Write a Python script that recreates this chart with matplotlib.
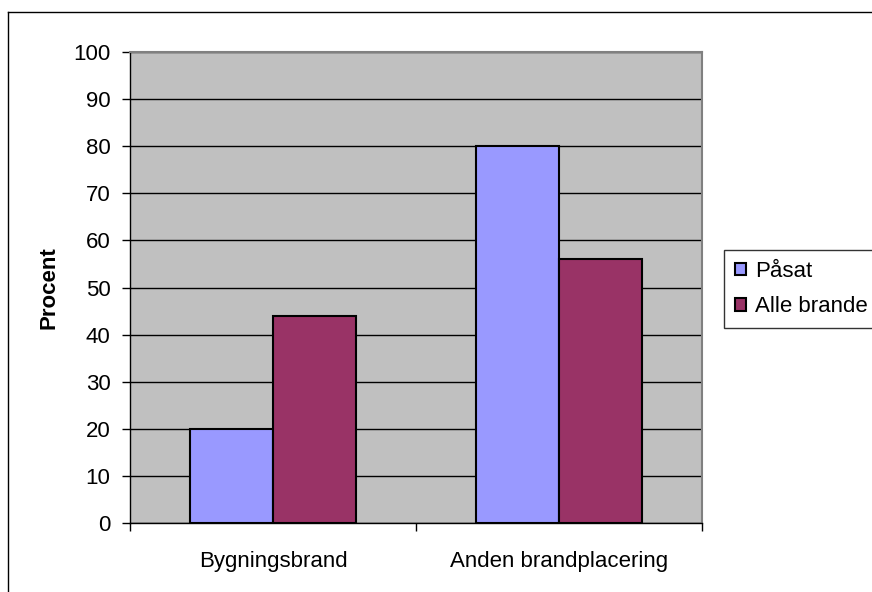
import numpy as np
import matplotlib.pyplot as plt
from matplotlib.lines import Line2D

categories = ["Bygningsbrand", "Anden brandplacering"]
series_names = ["Påsat", "Alle brande"]
paasat = [20, 80]
alle_brande = [44, 56]
yticks = list(range(0, 101, 10))

plt.rcParams['font.family'] = ['Liberation Sans', 'DejaVu Sans']

fig = plt.figure(figsize=(8.72, 5.92), dpi=100)
# outer chart border, only left and top edges are inside the picture
bx, by = 7.5 / 872, 1 - 11.5 / 592
fig.lines.append(Line2D([bx, bx], [0, by], transform=fig.transFigure,
                        color='black', linewidth=1))
fig.lines.append(Line2D([bx, 1], [by, by], transform=fig.transFigure,
                        color='black', linewidth=1))

ax = fig.add_axes([130 / 872, 1 - 523 / 592, 572 / 872, 471 / 592])
ax.set_facecolor('#C0C0C0')

x = np.arange(len(categories))
w = 0.29
ax.bar(x - w / 2, paasat, w, color='#9999FF', edgecolor='black', linewidth=1.5,
       label=series_names[0], zorder=3)
ax.bar(x + w / 2, alle_brande, w, color='#993366', edgecolor='black', linewidth=1.5,
       label=series_names[1], zorder=3)

ax.set_xlim(-0.5, len(categories) - 0.5)
ax.set_ylim(0, 100)
ax.set_yticks(yticks)
ax.yaxis.grid(True, color='black', linewidth=1)
ax.set_axisbelow(True)

ax.set_xticks(x)
ax.set_xticklabels(categories, fontsize=16)
ax.tick_params(axis='x', length=0, pad=20)
ax.set_xticks(np.arange(len(categories) + 1) - 0.5, minor=True)
ax.tick_params(axis='x', which='minor', length=6, width=1, direction='out')
ax.tick_params(axis='y', labelsize=16, length=6, width=1, direction='out', pad=8)

for s in ['top', 'right']:
    ax.spines[s].set_color('#808080')
    ax.spines[s].set_linewidth(1.5)
for s in ['left', 'bottom']:
    ax.spines[s].set_color('black')
    ax.spines[s].set_linewidth(1)

ax.set_ylabel('Procent', fontsize=16, fontweight='bold', labelpad=10)

leg = ax.legend(loc='center left', bbox_to_anchor=(724 / 872, 1 - 289 / 592),
                bbox_transform=fig.transFigure, fontsize=16, frameon=True,
                fancybox=False, handlelength=0.5, handleheight=0.5,
                handletextpad=0.4, borderpad=0.5, labelspacing=0.65,
                borderaxespad=0)
leg.get_frame().set_edgecolor('black')
leg.get_frame().set_linewidth(1)

fig.savefig('out.png', dpi=100)
